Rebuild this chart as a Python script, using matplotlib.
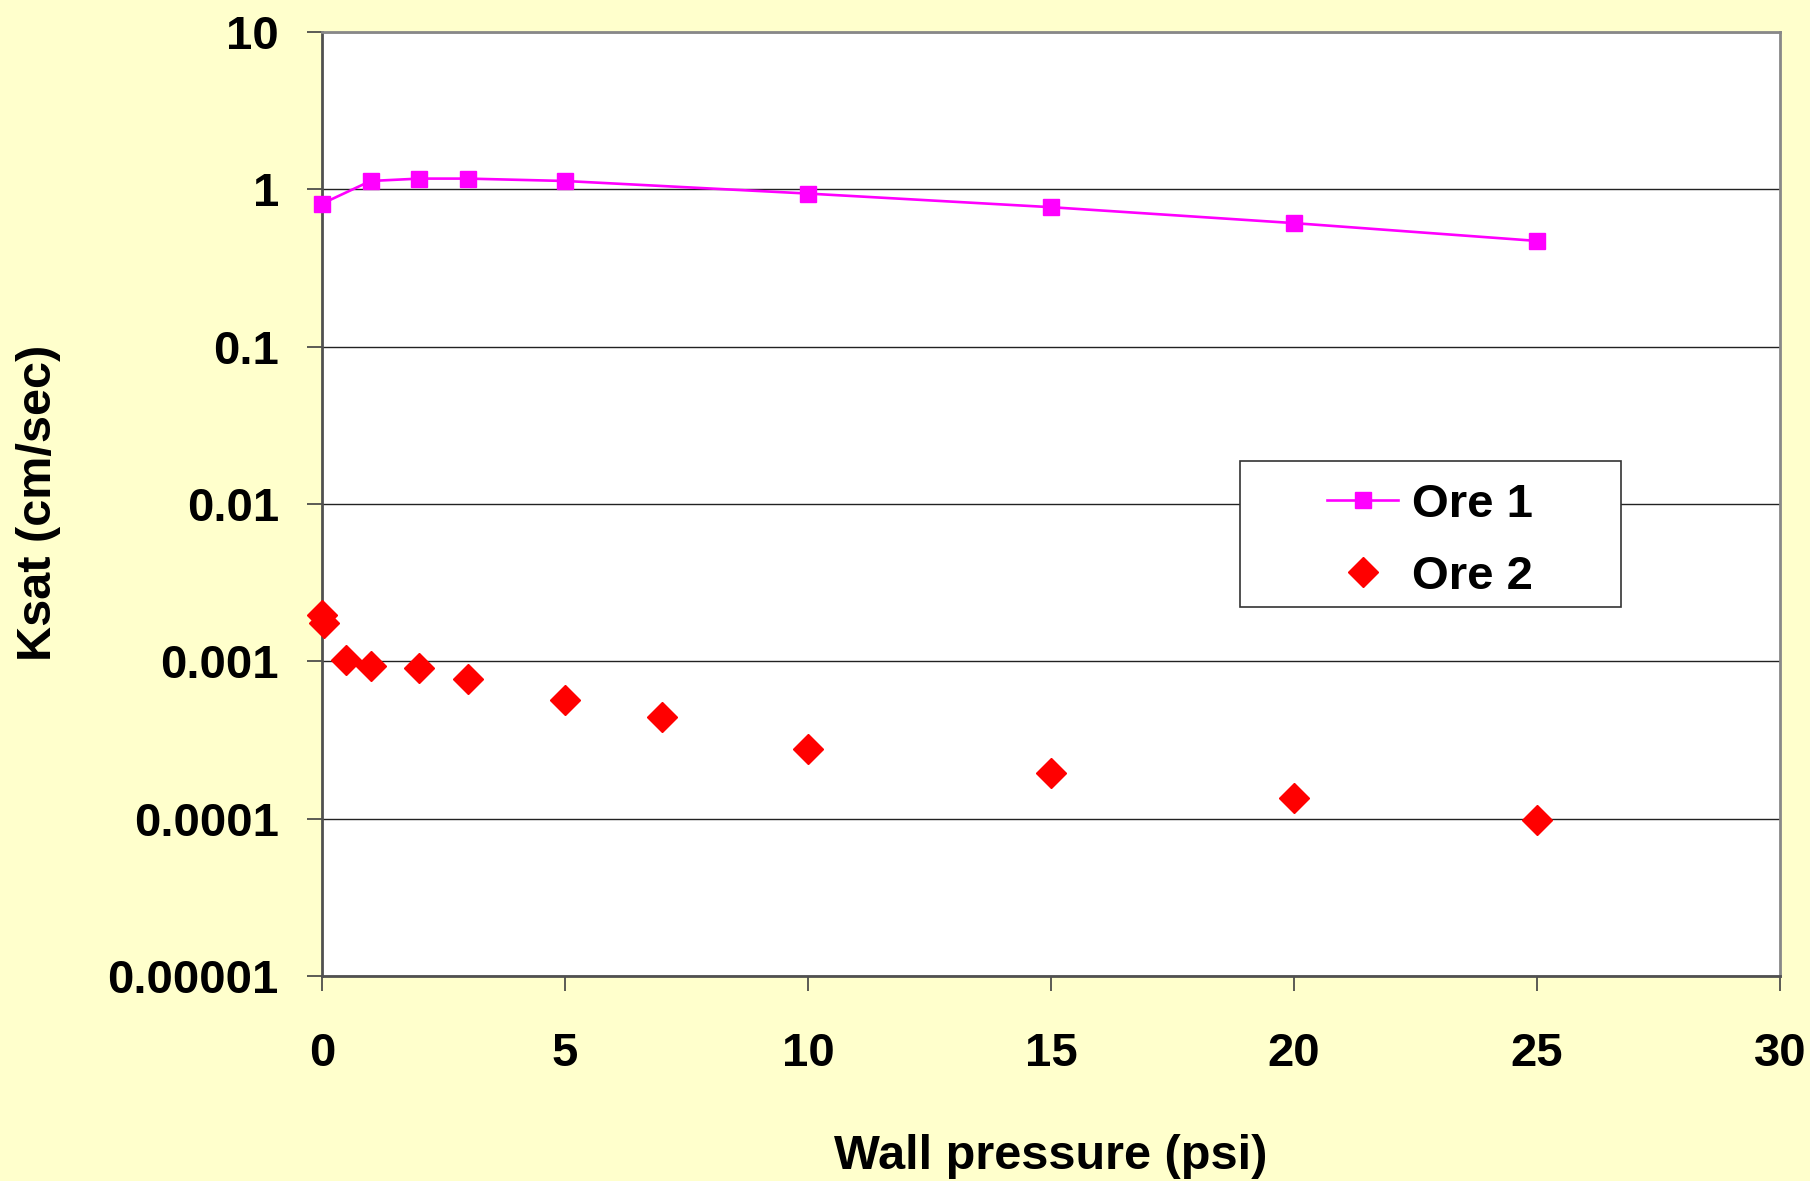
import matplotlib
matplotlib.use("Agg")
import matplotlib.pyplot as plt
from matplotlib.patches import Rectangle
from matplotlib.ticker import FixedLocator, NullLocator

# wall pressure (psi) and saturated conductivity (cm/sec)
ore1_p = [0, 1, 2, 3, 5, 10, 15, 20, 25]
ore1_k = [0.81, 1.13, 1.17, 1.17, 1.13, 0.94, 0.77, 0.61, 0.47]

ore2_p = [0, 0.05, 0.5, 1, 2, 3, 5, 7, 10, 15, 20, 25]
ore2_k = [0.00197, 0.00175, 0.00102, 0.00093, 0.00091, 0.00077, 0.000566,
          0.00044, 0.000278, 0.000195, 0.000135, 0.0000978]

x_ticks = [0, 5, 10, 15, 20, 25, 30]
y_ticks = [1e-5, 1e-4, 1e-3, 1e-2, 1e-1, 1, 10]
y_labels = ["0.00001", "0.0001", "0.001", "0.01", "0.1", "1", "10"]

bg = "#FFFFCC"
plt.rcParams["font.family"] = ["Liberation Sans", "DejaVu Sans"]
plt.rcParams["font.weight"] = "bold"

fig = plt.figure(figsize=(18.1, 11.81), dpi=100, facecolor=bg)
ax = fig.add_axes([0.1779, 0.1736, 0.8055, 0.7993])
ax.set_facecolor("white")

ax.plot(ore1_p, ore1_k, color="#FF00FF", lw=1.9, marker="s", ms=11,
        clip_on=False, zorder=4, label="Ore 1")
ax.plot(ore2_p, ore2_k, ls="none", color="#FF0000", marker="D", ms=15,
        clip_on=False, zorder=4, label="Ore 2")

ax.set_yscale("log")
ax.set_xlim(0, 30)
ax.set_ylim(1e-5, 10)
ax.xaxis.set_major_locator(FixedLocator(x_ticks))
ax.yaxis.set_major_locator(FixedLocator(y_ticks))
ax.yaxis.set_minor_locator(NullLocator())
ax.set_yticklabels(y_labels)
ax.set_xticklabels([str(t) for t in x_ticks])

ax.tick_params(axis="both", direction="out", length=11, width=1.2,
               color="#404040", labelsize=34)
ax.tick_params(axis="y", pad=20)
ax.tick_params(axis="x", pad=29)
ax.grid(axis="y", color="#222222", lw=1.0)
ax.set_axisbelow(True)

for side in ["left", "bottom"]:
    ax.spines[side].set_color("#505050")
    ax.spines[side].set_linewidth(2)
for side in ["top", "right"]:
    ax.spines[side].set_color("#888888")
    ax.spines[side].set_linewidth(2)

# legend frame drawn separately so it can be wider than its contents
ax.add_patch(Rectangle((0.6296, 0.391), 0.2614, 0.1545, transform=ax.transAxes,
                       facecolor="white", edgecolor="#333333", lw=1.2, zorder=5))
leg = ax.legend(loc="center", bbox_to_anchor=(0.7603, 0.461), frameon=False,
                fontsize=34, handlelength=1.5, handletextpad=0.3,
                labelspacing=0.6, borderpad=0.2)
leg.set_zorder(6)

fig.text(0.5807, 0.021, "Wall pressure (psi)", ha="center", va="center",
         fontsize=35, fontweight="bold")
fig.text(0.021, 0.574, "Ksat (cm/sec)", ha="center", va="center",
         rotation=90, fontsize=35, fontweight="bold")

fig.savefig("out.png", dpi=100, facecolor=bg)
